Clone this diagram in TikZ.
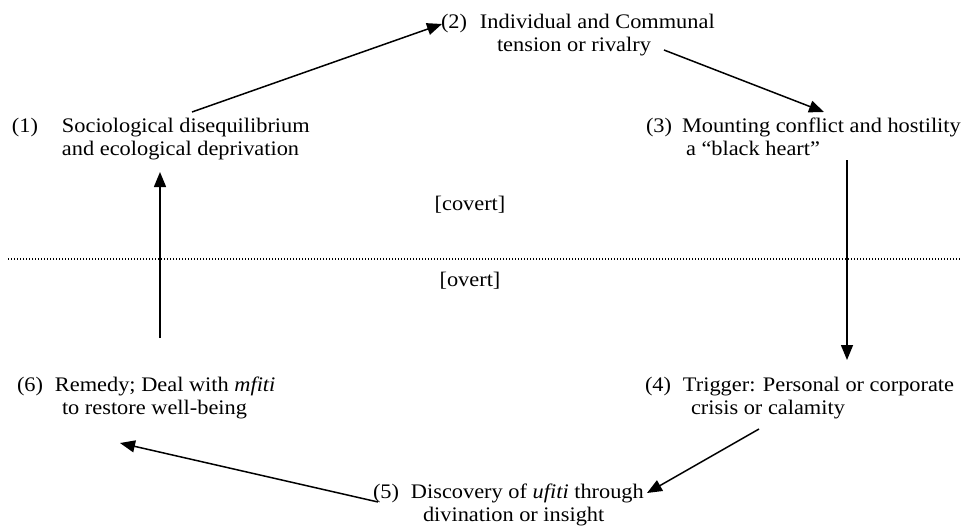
\documentclass[tikz,border=0pt]{standalone}
\usepackage{fontspec}
\setmainfont[FakeStretch=1.08]{Liberation Serif}
\usetikzlibrary{arrows.meta}
\begin{document}
\begin{tikzpicture}[x=1pt,y=-1pt,
  lbl/.style={inner sep=0pt, outer sep=0pt, anchor=base west, align=left,
              font=\fontsize{20.7}{23}\selectfont},
  mid/.style={inner sep=0pt, outer sep=0pt, anchor=center,
              font=\fontsize{20.7}{23}\selectfont},
  conn/.style={line width=1.5pt, -{Triangle[length=15pt,width=12pt]}},
  dotline/.style={line width=1.3pt, dash pattern=on 1.3pt off 1.7pt}]
\useasboundingbox (0,0) rectangle (968,525);

\node[lbl] (n1) at (12,155) {\makebox[50pt][l]{(1)}Sociological disequilibrium\\\hspace*{50pt}and ecological deprivation};
\node[lbl] (n2) at (441,51) {\makebox[39pt][l]{(2)}Individual and Communal\\\hspace*{56pt}tension or rivalry};
\node[lbl] (n3) at (646,155) {\makebox[36pt][l]{(3)}Mounting conflict and hostility\\\hspace*{40pt}a ``black heart''};
\node[lbl] (n4) at (645,414) {\makebox[38pt][l]{(4)}Trigger: Personal or corporate\\\hspace*{46pt}crisis or calamity};
\node[lbl] (n5) at (373,521) {\makebox[38pt][l]{(5)}Discovery of \textit{ufiti} through\\\hspace*{50pt}divination or insight};
\node[lbl] (n6) at (17,414) {\makebox[38pt][l]{(6)}Remedy; Deal with \textit{mfiti}\\\hspace*{45pt}to restore well-being};

\node[mid] (cov) at (470,205) {[covert]};
\node[mid] (ovt) at (470,281) {[overt]};

\coordinate (dl) at (8,259);
\coordinate (dr) at (960,259);
\draw[dotline] (dl) -- (dr);

\coordinate (a12s) at (192,112);
\coordinate (a12e) at (442,24);
\coordinate (a23s) at (664,50);
\coordinate (a23e) at (824,112);
\coordinate (a34s) at (847,160);
\coordinate (a34e) at (847,360);
\coordinate (a45s) at (759,429);
\coordinate (a45e) at (647,493);
\coordinate (a56s) at (378,502);
\coordinate (a56e) at (120,443);
\coordinate (a61s) at (160,338);
\coordinate (a61e) at (160,172);

\draw[conn] (a12s) -- (a12e);
\draw[conn] (a23s) -- (a23e);
\draw[conn] (a34s) -- (a34e);
\draw[conn] (a45s) -- (a45e);
\draw[conn] (a56s) -- (a56e);
\draw[conn] (a61s) -- (a61e);
\end{tikzpicture}
\end{document}
